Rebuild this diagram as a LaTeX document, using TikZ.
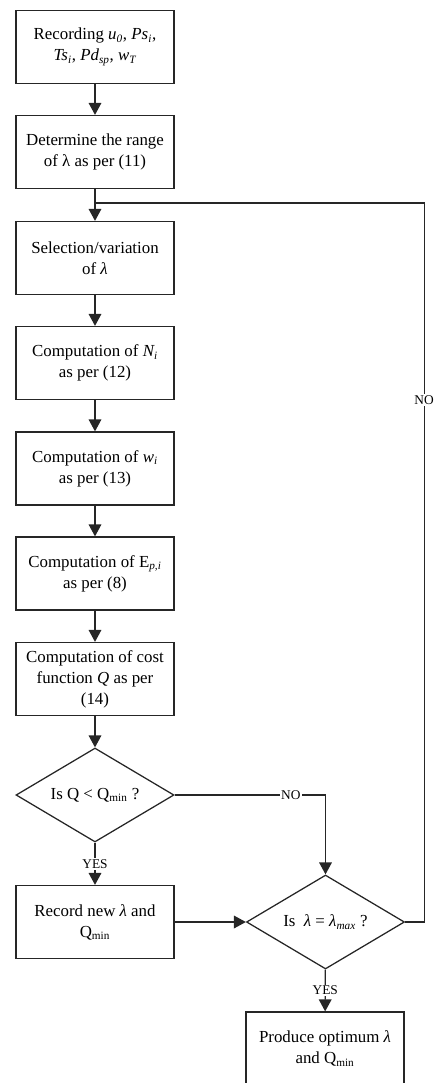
\documentclass[tikz,border=0pt]{standalone}
\usepackage{fontspec}
\setmainfont{Liberation Serif}
\usetikzlibrary{positioning, arrows.meta, shapes.geometric, calc}

\begin{document}
\begin{tikzpicture}[
  pbox/.style={draw=black!85, line width=0.9pt, minimum width=3.95cm, minimum height=1.825cm,
               align=center, font=\fontsize{12}{15}\selectfont, inner sep=2pt},
  dbox/.style={diamond, draw=black!85, line width=0.9pt, minimum width=3.95cm, minimum height=2.35cm,
               aspect=1.68, align=center, font=\fontsize{12}{15}\selectfont, inner sep=0pt},
  flow/.style={draw=black!85, line width=0.9pt, -{Triangle[length=8.5pt, width=9pt]}},
  link/.style={draw=black!85, line width=0.9pt},
  tag/.style={fill=white, inner sep=1pt, font=\fontsize{9.5}{11}\selectfont},
]
  \useasboundingbox (0,0) rectangle (10.875,-27.075);

  % main column
  \node[pbox] (rec) at (2.375,-1.175) {Recording \textit{u\textsubscript{0}}, \textit{Ps\textsubscript{i}},\\ \textit{Ts\textsubscript{i}}, \textit{Pd\textsubscript{sp}}, \textit{w\textsubscript{T}}};
  \node[pbox] (rng) at (2.375,-3.8) {Determine the range\\ of λ as per (11)};
  \node[pbox] (sel) at (2.375,-6.45) {Selection/variation\\ of \textit{λ}};
  \node[pbox] (cni) at (2.375,-9.075) {Computation of \textit{N\textsubscript{i}}\\ as per (12)};
  \node[pbox] (cwi) at (2.375,-11.7125) {Computation of \textit{w\textsubscript{i}}\\ as per (13)};
  \node[pbox] (cep) at (2.375,-14.3375) {Computation of E\textsubscript{\textit{p,i}}\\ as per (8)};
  \node[pbox] (cq) at (2.375,-16.975) {Computation of cost\\ function \textit{Q} as per\\ (14)};
  \node[dbox] (dq) at (2.375,-19.875) {Is Q < Q\textsubscript{min} ?};
  \node[pbox] (new) at (2.375,-23.05) {Record new \textit{λ} and\\ Q\textsubscript{min}};

  % right column
  \node[dbox] (dl) at (8.1375,-23.05) {Is~ \textit{λ} = \textit{λ\textsubscript{max}} ?};
  \node[pbox] (out) at (8.125,-26.2125) {Produce optimum \textit{λ}\\ and Q\textsubscript{min}};

  \coordinate (loop) at (2.375,-5.075);

  \foreach \a/\b in {rec/rng, rng/sel, sel/cni, cni/cwi, cwi/cep, cep/cq, cq/dq} {
    \draw[flow] (\a) -- (\b);
  }
  \draw[flow] (dq) -- node[tag]{YES} (new);
  \draw[flow] (new) -- (dl);
  \draw[flow] (dl) -- node[tag]{YES} (out);
  \draw[flow] (dq.east) -- node[tag, pos=0.77]{NO} (dq.east -| dl.north) -- (dl.north);

  % back to the selection of lambda
  \draw[link] (dl.east) -- ++(0.475,0) |- node[tag, pos=0.363]{NO} (loop);
\end{tikzpicture}
\end{document}
